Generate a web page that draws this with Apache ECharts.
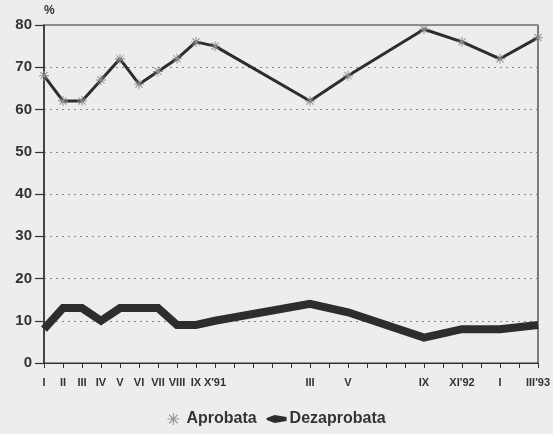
<!DOCTYPE html>
<html>
<head>
<meta charset="utf-8">
<script src="https://cdn.jsdelivr.net/npm/echarts@6/dist/echarts.min.js"></script>
<style>
  html, body { margin: 0; padding: 0; background: #ededeb; }
  #chart { width: 553px; height: 434px; }
</style>
</head>
<body>
<div id="chart"></div>
<script>
// months from I'91 to III'93, one category per month
const months = [
  '1991-01', '1991-02', '1991-03', '1991-04', '1991-05', '1991-06', '1991-07',
  '1991-08', '1991-09', '1991-10', '1991-11', '1991-12', '1992-01', '1992-02',
  '1992-03', '1992-04', '1992-05', '1992-06', '1992-07', '1992-08', '1992-09',
  '1992-10', '1992-11', '1992-12', '1993-01', '1993-02', '1993-03'
];
const tickLabels = [
  'I', 'II', 'III', 'IV', 'V', 'VI', 'VII',
  'VIII', 'IX', "X'91", '', '', '', '',
  'III', '', 'V', '', '', '', 'IX',
  '', "XI'92", '', 'I', '', "III'93"
];
// months where a survey was made
const surveyMonths = [
  '1991-01', '1991-02', '1991-03', '1991-04', '1991-05', '1991-06', '1991-07',
  '1991-08', '1991-09', '1991-10', '1992-03', '1992-05', '1992-09', '1992-11',
  '1993-01', '1993-03'
];
const aprobata =    [68, 62, 62, 67, 72, 66, 69, 72, 76, 75, 62, 68, 79, 76, 72, 77];
const dezaprobata = [8, 13, 13, 10, 13, 13, 13, 9, 9, 10, 14, 12, 6, 8, 8, 9];
const yTicks = [0, 10, 20, 30, 40, 50, 60, 70, 80];

function toSeries(values) {
  const out = months.map(() => null);
  surveyMonths.forEach((m, i) => { out[months.indexOf(m)] = values[i]; });
  return out;
}

// asterisk marker made of four thin bars
function asteriskPath() {
  let p = '';
  [0, 45, 90, 135].forEach(deg => {
    const a = deg * Math.PI / 180;
    const dx = Math.cos(a), dy = Math.sin(a);
    const nx = -dy * 0.9, ny = dx * 0.9;
    const pts = [
      [10 * dx + nx, 10 * dy + ny], [10 * dx - nx, 10 * dy - ny],
      [-10 * dx - nx, -10 * dy - ny], [-10 * dx + nx, -10 * dy + ny]
    ];
    p += 'M' + pts.map(q => q[0].toFixed(2) + ',' + q[1].toFixed(2)).join(' L') + ' Z ';
  });
  return 'path://' + p;
}

const ink = '#2b2e2c';
const chart = echarts.init(document.getElementById('chart'));
chart.setOption({
  backgroundColor: '#ededeb',
  animation: false,
  textStyle: { fontFamily: 'Liberation Sans' },
  grid: {
    left: 44, right: 12, top: 25, bottom: 71,
    show: true, borderColor: '#333', borderWidth: 1.2,
    containLabel: false
  },
  legend: {
    bottom: 2,
    left: 'center',
    itemGap: 10,
    itemWidth: 20,
    itemHeight: 12,
    textStyle: { fontSize: 16, color: '#333', fontWeight: 'bold', padding: [0, 0, 0, -2] },
    data: [
      { name: 'Aprobata', icon: asteriskPath(), itemStyle: { color: '#9a9a9a' } },
      { name: 'Dezaprobata', icon: 'path://M0,3 L8,0 L20,2 L20,6 L8,8 L0,5 Z', itemStyle: { color: ink } }
    ]
  },
  xAxis: {
    type: 'category',
    data: months,
    boundaryGap: false,
    axisLine: { lineStyle: { color: '#333', width: 1.2 } },
    axisTick: { show: true, interval: 0, length: 5, lineStyle: { color: '#333' } },
    axisLabel: {
      interval: 0,
      margin: 14,
      fontSize: 11,
      fontWeight: 'bold',
      color: '#333',
      formatter: (v, i) => tickLabels[i]
    },
    splitLine: { show: false }
  },
  yAxis: {
    type: 'value',
    min: yTicks[0],
    max: yTicks[yTicks.length - 1],
    interval: 10,
    name: '%',
    nameLocation: 'end',
    nameGap: 8,
    nameTextStyle: { fontSize: 12, fontWeight: 'bold', color: '#333', align: 'left', padding: [0, 0, 0, 0] },
    axisLine: { show: true, lineStyle: { color: '#333', width: 1.5 } },
    axisTick: { show: true, length: 9, lineStyle: { color: '#333', width: 1.2 } },
    axisLabel: { fontSize: 15, fontWeight: 'bold', color: '#333', margin: 12 },
    splitLine: { show: true, lineStyle: { type: [2, 4], color: '#888', width: 1.2 } }
  },
  series: [
    {
      name: 'Aprobata',
      type: 'line',
      data: toSeries(aprobata),
      connectNulls: true,
      symbol: asteriskPath(),
      symbolSize: 10,
      itemStyle: { color: '#8a8a8a' },
      lineStyle: { color: ink, width: 3 },
      z: 3
    },
    {
      name: 'Dezaprobata',
      type: 'line',
      data: toSeries(dezaprobata),
      connectNulls: true,
      showSymbol: false,
      symbol: 'none',
      itemStyle: { color: ink },
      lineStyle: { color: ink, width: 8, join: 'miter' },
      z: 2
    }
  ]
});
</script>
</body>
</html>
